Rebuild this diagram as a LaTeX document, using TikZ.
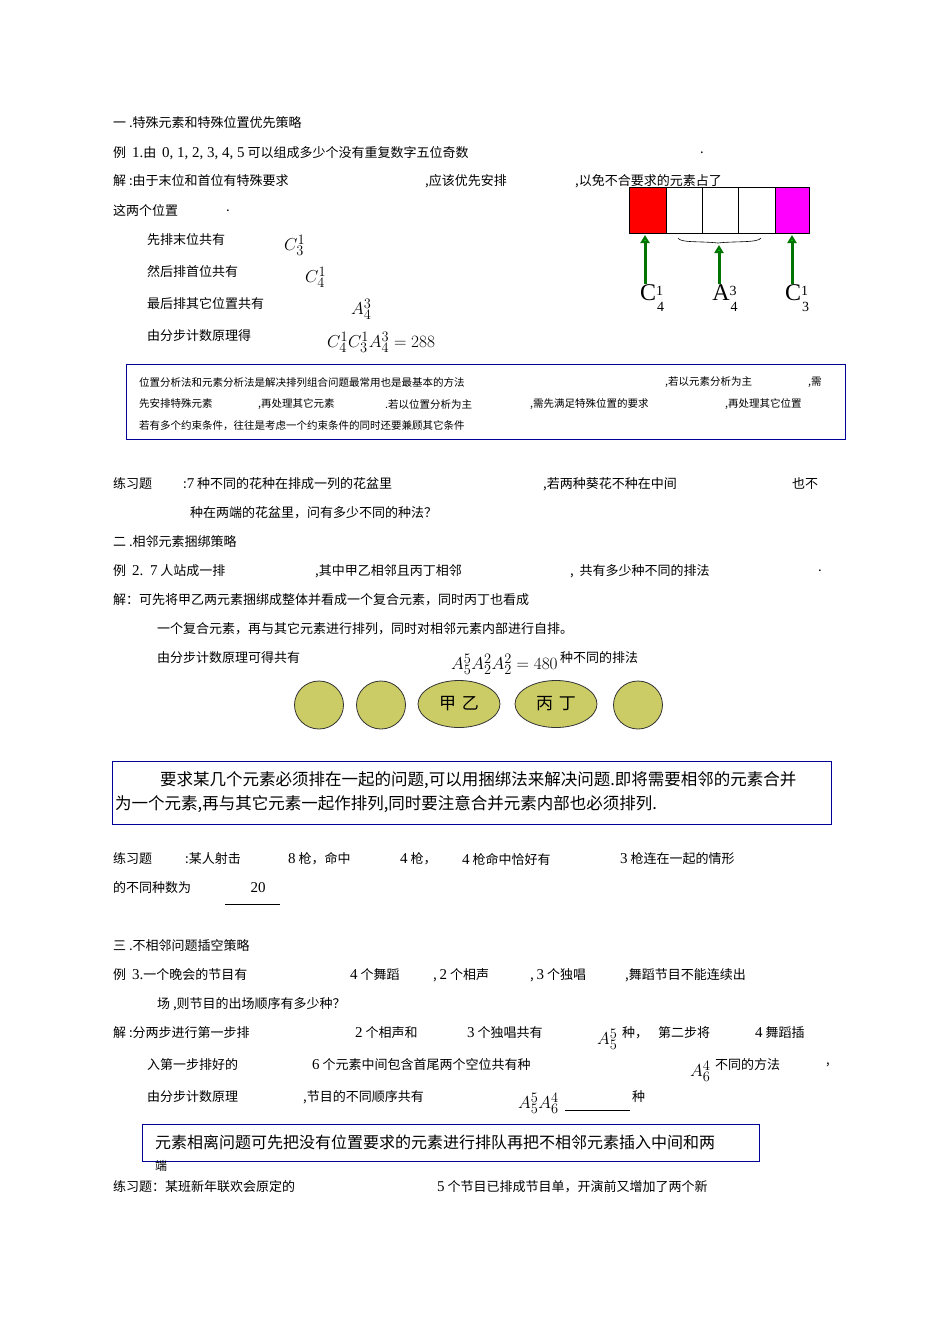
\documentclass[tikz,border=0pt]{standalone}
\usepackage{fontspec}
\setmainfont{Noto Sans CJK SC}
\newfontfamily\lat{Liberation Serif}
\newcommand\nm[1]{{\lat\fontsize{15}{16}\selectfont #1}}
\usetikzlibrary{arrows.meta,shapes.geometric}
\definecolor{olv}{RGB}{204,204,102}
\definecolor{mag}{RGB}{255,0,255}
\begin{document}
\begin{tikzpicture}[x=1pt,y=-1pt,
  t/.style={anchor=west,inner sep=0pt,font=\fontsize{13}{15}\selectfont},
  s/.style={anchor=west,inner sep=0pt,font=\fontsize{10.5}{12}\selectfont},
  m/.style={anchor=west,inner sep=0pt,font=\fontsize{19}{21}\selectfont},
  bx/.style={draw=blue!60!black,line width=0.9pt},
  el/.style={draw=black!80,fill=olv,line width=0.8pt},
  gar/.style={draw=green!45!black,line width=3pt,-{Triangle[length=8pt,width=9pt,fill=green!80!black]}},
  big/.style={inner sep=0pt,font=\lat\fontsize{24}{26}\selectfont}]
\useasboundingbox (0,0) rectangle (950,1344);
\fill[white] (0,0) rectangle (950,1344);
% section 1
\node[t] (a1) at (113,123) {一 .特殊元素和特殊位置优先策略};
\node[t] (a2) at (113,153) {例 \ \nm{1.}由 \ \nm{0, 1, 2, 3, 4, 5} 可以组成多少个没有重复数字五位奇数};
\node[t] (a2b) at (700,153) {.};
\node[t] (a3) at (113,181) {解 :由于末位和首位有特殊要求};
\node[t] (a3b) at (425,181) {,应该优先安排};
\node[t] (a3c) at (575,181) {,以免不合要求的元素占了};
\node[t] (a4) at (113,211) {这两个位置};
\node[t] (a4b) at (226,211) {.};
\node[t] (b1) at (147,240) {先排末位共有};
\node[m] (b1m) at (284,245) {$C^{1}_{3}$};
\node[t] (b2) at (147,272) {然后排首位共有};
\node[m] (b2m) at (305,277) {$C^{1}_{4}$};
\node[t] (b3) at (147,304) {最后排其它位置共有};
\node[m] (b3m) at (351,309) {$A^{3}_{4}$};
\node[t] (b4) at (147,336) {由分步计数原理得};
\node[m] (b4m) at (327,342) {$C^{1}_{4}C^{1}_{3}A^{3}_{4}=288$};
% right diagram
\fill[red] (629,187) rectangle (666,233);
\fill[mag] (775,187) rectangle (809,233);
\draw[line width=0.8pt] (629,187) rectangle (809,233);
\foreach \x in {666,702,738,775} \draw[line width=0.6pt] (\x,187) -- (\x,233);
\draw[line width=0.6pt] (678,238) .. controls (680,243) and (700,241) .. (718,243) .. controls (735,241) and (758,243) .. (761,238);
\coordinate (p1) at (645,235); \coordinate (p2) at (719,245); \coordinate (p3) at (792,235);
\node[big] (l1) at (652,298) {C\raisebox{5pt}{\fontsize{14}{14}\selectfont 1}\kern-6pt\raisebox{-11pt}{\fontsize{14}{14}\selectfont 4}};
\node[big] (l2) at (725,298) {A\raisebox{5pt}{\fontsize{14}{14}\selectfont 3}\kern-6pt\raisebox{-11pt}{\fontsize{14}{14}\selectfont 4}};
\node[big] (l3) at (797,298) {C\raisebox{5pt}{\fontsize{14}{14}\selectfont 1}\kern-6pt\raisebox{-11pt}{\fontsize{14}{14}\selectfont 3}};
\draw[gar] (645,284) -- (p1);
\draw[gar] (719,284) -- (p2);
\draw[gar] (792,284) -- (p3);
% box 1
\draw[bx] (126,364) rectangle (845,439);
\node[s] (c1) at (139,382) {位置分析法和元素分析法是解决排列组合问题最常用也是最基本的方法};
\node[s] (c1b) at (665,382) {,若以元素分析为主};
\node[s] (c1c) at (808,382) {,需};
\node[s] (c2) at (139,404) {先安排特殊元素};
\node[s] (c2b) at (258,404) {,再处理其它元素};
\node[s] (c2c) at (385,404) {.若以位置分析为主};
\node[s] (c2d) at (530,404) {,需先满足特殊位置的要求};
\node[s] (c2e) at (725,404) {,再处理其它位置};
\node[s] (c3) at (139,426) {若有多个约束条件，往往是考虑一个约束条件的同时还要兼顾其它条件};
% exercise
\node[t] (d1) at (113,484) {练习题};
\node[t] (d1b) at (183,484) {:\nm{7} 种不同的花种在排成一列的花盆里};
\node[t] (d1c) at (543,484) {,若两种葵花不种在中间};
\node[t] (d1d) at (792,484) {也不};
\node[t] (d2) at (190,513) {种在两端的花盆里，问有多少不同的种法？};
% section 2
\node[t] (e1) at (113,542) {二 .相邻元素捆绑策略};
\node[t] (e2) at (113,571) {例 \ \nm{2.} \ \nm{7} 人站成一排};
\node[t] (e2b) at (315,571) {,其中甲乙相邻且丙丁相邻};
\node[t] (e2c) at (570,571) {, \ 共有多少种不同的排法};
\node[t] (e2d) at (818,571) {.};
\node[t] (e3) at (113,600) {解：可先将甲乙两元素捆绑成整体并看成一个复合元素，同时丙丁也看成};
\node[t] (e4) at (157,629) {一个复合元素，再与其它元素进行排列，同时对相邻元素内部进行自排。};
\node[t] (e5) at (157,658) {由分步计数原理可得共有};
\node[m] (e5m) at (451,664) {$A^{5}_{5}A^{2}_{2}A^{2}_{2}=480$};
\node[t] (e5b) at (560,658) {种不同的排法};
\node[el,ellipse,minimum width=49pt,minimum height=48pt] (o1) at (319,705) {};
\node[el,ellipse,minimum width=49pt,minimum height=48pt] (o2) at (381,705) {};
\node[el,ellipse,minimum width=82pt,minimum height=47pt,font=\fontsize{17}{19}\selectfont] (o3) at (459,704) {甲\,\,乙};
\node[el,ellipse,minimum width=82pt,minimum height=47pt,font=\fontsize{17}{19}\selectfont] (o4) at (556,704) {丙\,\,丁};
\node[el,ellipse,minimum width=49pt,minimum height=48pt] (o5) at (638,705) {};
% box 2
\draw[bx] (112,761) rectangle (831,824);
\node[t,font=\fontsize{16.5}{18}\selectfont] (f1) at (160,780) {要求某几个元素必须排在一起的问题,可以用捆绑法来解决问题.即将需要相邻的元素合并};
\node[t,font=\fontsize{16.5}{18}\selectfont] (f2) at (115,804) {为一个元素,再与其它元素一起作排列,同时要注意合并元素内部也必须排列.};
% exercise 2
\node[t] (g1) at (113,859) {练习题};
\node[t] (g1b) at (185,859) {:某人射击};
\node[t] (g1c) at (288,859) {\nm{8} 枪，命中};
\node[t] (g1d) at (400,859) {\nm{4} 枪，};
\node[t] (g1e) at (462,859) {\nm{4} 枪命中恰好有};
\node[t] (g1f) at (620,859) {\nm{3} 枪连在一起的情形};
\node[t] (g2) at (113,888) {的不同种数为};
\node[anchor=center,inner sep=0pt] (g2b) at (258,888) {\nm{20}};
\draw[line width=0.8pt] (225,904) -- (280,904);
% section 3
\node[t] (h1) at (113,946) {三 .不相邻问题插空策略};
\node[t] (h2) at (113,975) {例 \ \nm{3.}一个晚会的节目有};
\node[t] (h2b) at (350,975) {\nm{4} 个舞蹈};
\node[t] (h2c) at (433,975) {, \nm{2} 个相声};
\node[t] (h2d) at (530,975) {, \nm{3} 个独唱};
\node[t] (h2e) at (625,975) {,舞蹈节目不能连续出};
\node[t] (h3) at (157,1004) {场 ,则节目的出场顺序有多少种？};
\node[t] (h4) at (113,1033) {解 :分两步进行第一步排};
\node[t] (h4b) at (355,1033) {\nm{2} 个相声和};
\node[t] (h4c) at (467,1033) {\nm{3} 个独唱共有};
\node[m] (h4m) at (597,1039) {$A^{5}_{5}$};
\node[t] (h4d) at (622,1033) {种，};
\node[t] (h4e) at (658,1033) {第二步将};
\node[t] (h4f) at (755,1033) {\nm{4} 舞蹈插};
\node[t] (h5) at (147,1065) {入第一步排好的};
\node[t] (h5b) at (312,1065) {\nm{6} 个元素中间包含首尾两个空位共有种};
\node[m] (h5m) at (690,1071) {$A^{4}_{6}$};
\node[t] (h5c) at (715,1065) {不同的方法};
\node[t] (h5d) at (826,1065) {,};
\node[t] (h6) at (147,1097) {由分步计数原理};
\node[t] (h6b) at (303,1097) {,节目的不同顺序共有};
\node[m] (h6m) at (518,1103) {$A^{5}_{5}A^{4}_{6}$};
\draw[line width=0.8pt] (565,1110) -- (630,1110);
\node[t] (h6c) at (632,1097) {种};
% box 3
\draw[bx] (142,1124) rectangle (759,1161);
\node[t,font=\fontsize{16}{18}\selectfont] (k1) at (155,1142) {元素相离问题可先把没有位置要求的元素进行排队再把不相邻元素插入中间和两};
\node[t,font=\fontsize{12}{14}\selectfont] (k2) at (155,1166) {端};
\node[t] (m1) at (113,1187) {练习题：某班新年联欢会原定的};
\node[t] (m1b) at (437,1187) {\nm{5} 个节目已排成节目单，开演前又增加了两个新};
\end{tikzpicture}
\end{document}
